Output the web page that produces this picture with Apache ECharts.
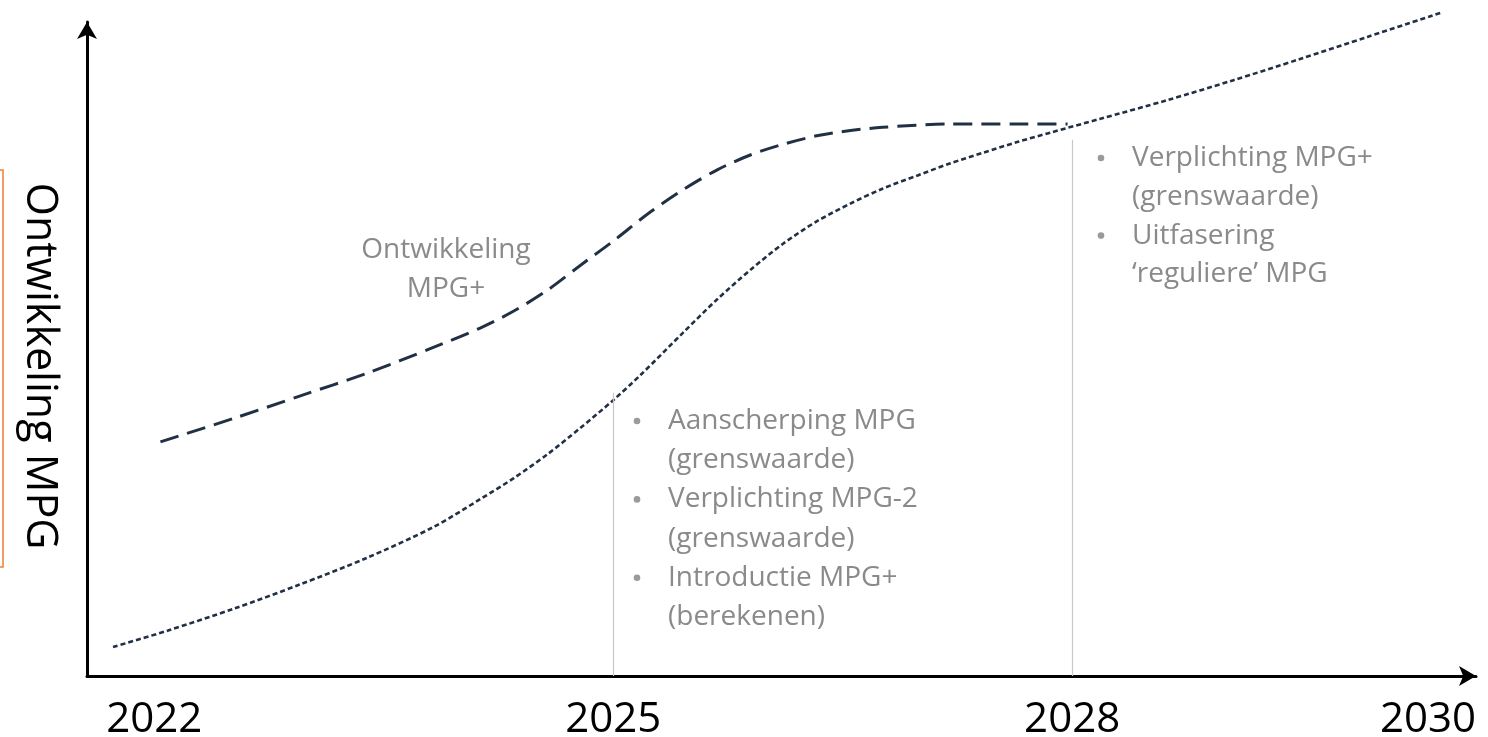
<!DOCTYPE html>
<html>
<head>
<meta charset="utf-8">
<script src="https://cdn.jsdelivr.net/npm/echarts@6/dist/echarts.min.js"></script>
<style>
  html, body { margin: 0; padding: 0; background: #ffffff; }
  #chart { width: 1488px; height: 737px; }
</style>
</head>
<body>
<div id="chart"></div>
<script>
// ---- data (x = year, y = relative development level 0..100) ----
const mpgPlusYears = [2022.04, 2022.52, 2022.95, 2023.39, 2023.82, 2024.13, 2024.35, 2024.57, 2024.78, 2025.00, 2025.24, 2025.46, 2025.68, 2025.90, 2026.11, 2026.33, 2026.55, 2026.76, 2027.20, 2027.64, 2027.97];
const mpgPlusValues = [35.8, 39.4, 42.8, 46.3, 50.2, 53.2, 55.8, 59.0, 62.7, 66.5, 70.9, 74.4, 77.4, 79.7, 81.3, 82.6, 83.4, 83.9, 84.4, 84.4, 84.4];

const mpgYears = [2021.73, 2022.09, 2022.52, 2022.95, 2023.39, 2023.82, 2024.13, 2024.35, 2024.57, 2024.78, 2025.00, 2025.18, 2025.46, 2025.68, 2025.90, 2026.11, 2026.33, 2026.55, 2026.76, 2026.99, 2027.20, 2027.42, 2027.64, 2027.86, 2028.18, 2028.62, 2029.05, 2029.49, 2029.93, 2030.41];
const mpgValues = [4.43, 6.96, 10.29, 13.98, 18.07, 22.72, 27.03, 30.26, 33.90, 37.83, 42.17, 46.06, 52.57, 57.61, 62.16, 66.09, 69.51, 72.23, 74.51, 76.54, 78.36, 80.03, 81.64, 83.10, 85.17, 88.04, 91.07, 94.34, 97.72, 101.41];

const tickYears = [2022, 2025, 2028, 2030];
const tickLabels = ['2022', '2025', '2028', '2030'];

// milestone vertical lines: [year, top value]
const milestoneYears = [2025, 2028];
const milestoneTops = [43.3, 82.0];

const milestone2025Notes = ['Aanscherping MPG', '(grenswaarde)', 'Verplichting MPG-2', '(grenswaarde)', 'Introductie MPG+', '(berekenen)'];
const milestone2025Bullets = [true, false, true, false, true, false];
const milestone2028Notes = ['Verplichting MPG+', '(grenswaarde)', 'Uitfasering', '\u2018reguliere\u2019 MPG'];
const milestone2028Bullets = [true, false, true, false];
const curveLabel = ['Ontwikkeling', 'MPG+'];
const yAxisTitle = 'Ontwikkeling MPG';

// ---- chart ----
const FONT = '"Open Sans", "Noto Sans", sans-serif';
const GRAY = '#8a8a8a';
const LINE = '#213044';

const chart = echarts.init(document.getElementById('chart'), null, { renderer: 'canvas' });

const graphics = [];
// orange frame (partly outside the canvas)
graphics.push({
  type: 'rect', shape: { x: -60, y: 170, width: 63, height: 397 },
  style: { fill: 'none', stroke: '#ed7d31', lineWidth: 1.5 }, z: 1
});
function addNotes(lines, bullets, bulletX, textX, y0, step) {
  lines.forEach((t, i) => {
    const y = y0 + i * step;
    if (bullets[i]) {
      graphics.push({ type: 'circle', shape: { cx: bulletX, cy: y, r: 3.3 }, style: { fill: '#9a9a9a' } });
    }
    graphics.push({ type: 'text', x: textX, y: y, style: { text: t, font: '28px ' + FONT, fill: GRAY, align: 'left', verticalAlign: 'middle' } });
  });
}
addNotes(milestone2025Notes, milestone2025Bullets, 637, 668, 421, 39.2);
addNotes(milestone2028Notes, milestone2028Bullets, 1101, 1132, 158, 38.8);
curveLabel.forEach((t, i) => {
  graphics.push({ type: 'text', x: 446, y: 250 + i * 39, style: { text: t, font: '28px ' + FONT, fill: GRAY, align: 'center', verticalAlign: 'middle' } });
});

const option = {
  backgroundColor: '#ffffff',
  animation: false,
  grid: { left: 87, right: 12, top: 22, bottom: 61, containLabel: false, outerBoundsMode: 'none' },
  xAxis: {
    type: 'value',
    min: 2021.56, max: 2030.64,
    splitLine: { show: false },
    axisTick: { show: false },
    axisLine: { show: true, onZero: false, symbol: ['none', 'arrow'], symbolSize: [15, 17], lineStyle: { color: '#000', width: 3 } },
    axisLabel: {
      customValues: tickYears,
      margin: 23,
      color: '#000',
      fontFamily: FONT,
      fontSize: 42,
      formatter: function (v) {
        const i = tickYears.indexOf(v);
        if (i === tickYears.length - 1) return '{last|' + tickLabels[i] + '}';
        return i >= 0 ? tickLabels[i] : '';
      },
      rich: { last: { fontFamily: FONT, fontSize: 42, color: '#000', padding: [0, 0, 0, 100] } }
    }
  },
  yAxis: {
    type: 'value',
    min: 0, max: 100,
    name: yAxisTitle,
    nameLocation: 'middle',
    nameRotate: -90,
    nameGap: 26,
    nameTextStyle: { fontFamily: FONT, fontSize: 43, color: '#000', padding: [0, 0, 0, 34] },
    splitLine: { show: false },
    axisTick: { show: false },
    axisLabel: { show: false },
    axisLine: { show: true, onZero: false, symbol: ['none', 'arrow'], symbolSize: [15, 17], lineStyle: { color: '#000', width: 3 } }
  },
  series: [
    {
      name: 'Ontwikkeling MPG+',
      type: 'line',
      data: mpgPlusYears.map((x, i) => [x, mpgPlusValues[i]]),
      smooth: 0.3,
      showSymbol: false,
      clip: false,
      lineStyle: { color: LINE, width: 3, type: [19, 9] },
      z: 3
    },
    {
      name: 'Ontwikkeling MPG',
      type: 'line',
      data: mpgYears.map((x, i) => [x, mpgValues[i]]),
      smooth: 0.3,
      showSymbol: false,
      clip: false,
      lineStyle: { color: LINE, width: 2.6, type: [5, 3] },
      z: 3,
      markLine: {
        silent: true,
        symbol: ['none', 'none'],
        label: { show: false },
        lineStyle: { color: '#c8c8c8', width: 1.2, type: 'solid' },
        data: milestoneYears.map((yr, i) => [{ coord: [yr, milestoneTops[i]] }, { coord: [yr, 0] }])
      }
    }
  ],
  graphic: graphics
};
chart.setOption(option);
</script>
</body>
</html>
